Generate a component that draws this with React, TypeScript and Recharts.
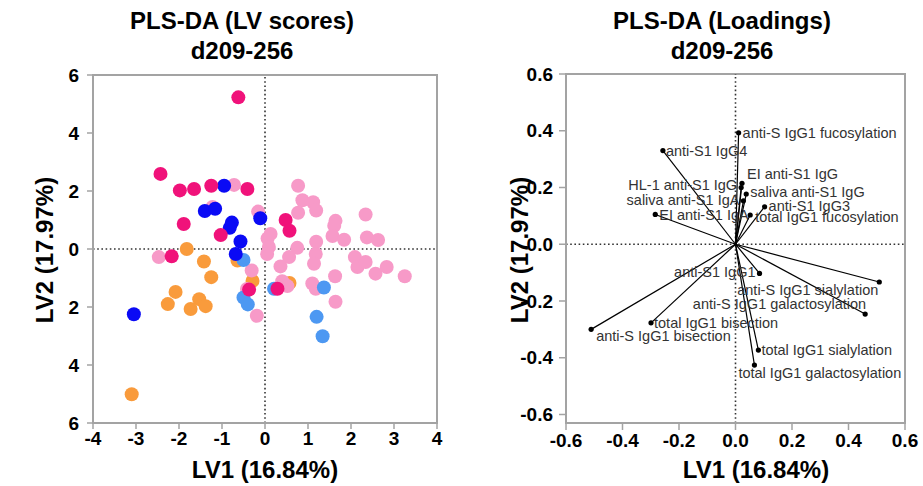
import React from 'react';
import { ScatterChart, Scatter, XAxis, YAxis, ReferenceLine, ReferenceArea } from 'recharts';

// ---------- LV scores (left panel) ----------
const orangePts = [
  { x: -1.82, y: 0.0 }, { x: -1.42, y: -0.43 }, { x: -1.25, y: -0.97 }, { x: -2.08, y: -1.48 },
  { x: -2.26, y: -1.9 }, { x: -1.53, y: -1.73 }, { x: -1.73, y: -2.07 }, { x: -1.38, y: -1.97 },
  { x: -3.1, y: -5.01 }, { x: -0.64, y: -0.4 }, { x: -0.29, y: -1.1 }, { x: 0.57, y: -1.17 },
];
const lightPinkPts = [
  { x: -0.72, y: 2.21 }, { x: -1.22, y: 1.45 }, { x: -0.16, y: 1.29 }, { x: 0.06, y: 0.36 },
  { x: 0.13, y: 0.52 }, { x: 0.09, y: 0.07 }, { x: 0.77, y: 2.18 }, { x: 0.87, y: 1.68 },
  { x: 1.12, y: 1.61 }, { x: 1.19, y: 1.33 }, { x: 0.77, y: 1.25 }, { x: 1.64, y: 0.97 },
  { x: 1.61, y: 0.8 }, { x: 2.34, y: 1.19 }, { x: 1.57, y: 0.45 }, { x: 1.84, y: 0.32 },
  { x: 1.19, y: 0.25 }, { x: 2.37, y: 0.4 }, { x: 2.63, y: 0.31 }, { x: 0.75, y: 0.04 },
  { x: -2.47, y: -0.28 }, { x: -0.31, y: -0.74 }, { x: -0.42, y: -1.38 }, { x: -0.19, y: -2.3 },
  { x: 0.05, y: -0.17 }, { x: 0.56, y: -0.28 }, { x: 0.36, y: -0.6 }, { x: 1.18, y: -0.17 },
  { x: 1.14, y: -0.51 }, { x: 2.09, y: -0.28 }, { x: 2.15, y: -0.62 }, { x: 2.34, y: -0.45 },
  { x: 2.57, y: -0.85 }, { x: 2.83, y: -0.62 }, { x: 3.25, y: -0.94 }, { x: 0.4, y: -1.11 },
  { x: 0.52, y: -1.28 }, { x: 1.1, y: -1.19 }, { x: 1.18, y: -1.37 }, { x: 1.63, y: -0.94 },
  { x: 1.64, y: -1.82 },
];
const lightBluePts = [
  { x: -0.5, y: -0.38 }, { x: -0.5, y: -1.67 }, { x: -0.4, y: -1.91 }, { x: 0.21, y: -1.37 },
  { x: 1.37, y: -1.33 }, { x: 1.2, y: -2.34 }, { x: 1.34, y: -3.01 },
];
const bluePts = [
  { x: -0.95, y: 2.18 }, { x: -1.4, y: 1.31 }, { x: -1.16, y: 1.39 }, { x: -0.11, y: 1.06 },
  { x: -0.77, y: 0.91 }, { x: -0.82, y: 0.73 }, { x: -0.57, y: 0.26 }, { x: -0.68, y: -0.17 },
  { x: -3.05, y: -2.25 },
];
const magentaPts = [
  { x: -0.62, y: 5.23 }, { x: -2.43, y: 2.59 }, { x: -1.98, y: 2.02 }, { x: -1.65, y: 2.07 },
  { x: -1.25, y: 2.18 }, { x: -0.41, y: 2.07 }, { x: -1.89, y: 0.86 }, { x: -1.03, y: 0.48 },
  { x: 0.48, y: 1.0 }, { x: 0.57, y: 0.63 }, { x: -2.17, y: -0.25 }, { x: -0.37, y: -1.4 },
  { x: 0.29, y: -1.37 },
];
const scoreXTicks = [-4, -3, -2, -1, 0, 1, 2, 3, 4];
const scoreYTicks = [-6, -4, -2, 0, 2, 4, 6];

// ---------- Loadings (right panel) ----------
const loadNames = [
  'anti-S IgG1 fucosylation', 'anti-S1 IgG4', 'EI anti-S1 IgG', 'HL-1 anti-S1 IgG',
  'saliva anti-S1 IgG', 'saliva anti-S1 IgA', 'anti-S1 IgG3', 'total IgG1 fucosylation',
  'EI anti-S1 IgA', 'anti-S1 IgG1', 'anti-S IgG1 sialylation', 'anti-S IgG1 galactosylation',
  'total IgG1 bisection', 'anti-S IgG1 bisection', 'total IgG1 sialylation', 'total IgG1 galactosylation',
];
const loadX = [0.011, -0.257, 0.023, 0.02, 0.038, 0.028, 0.103, 0.052, -0.284, 0.085, 0.509, 0.459, -0.299, -0.511, 0.081, 0.067];
const loadY = [0.393, 0.33, 0.215, 0.2, 0.177, 0.153, 0.132, 0.103, 0.105, -0.103, -0.133, -0.246, -0.277, -0.3, -0.373, -0.426];
const loadTicks = [-0.6, -0.4, -0.2, 0, 0.2, 0.4, 0.6];

const loadings = loadNames.map((name, i) => ({ name, x: loadX[i], y: loadY[i] }));

// label placement (anchor, dx, dy) for each loading label
const labelPlace: Record<string, [string, number, number]> = {
  'anti-S IgG1 fucosylation': ['start', 4, 0],
  'anti-S1 IgG4': ['start', 3, 0],
  'EI anti-S1 IgG': ['start', 5, -9],
  'HL-1 anti-S1 IgG': ['end', -4, -2],
  'saliva anti-S1 IgG': ['start', 4, -2],
  'saliva anti-S1 IgA': ['end', -4, -1],
  'anti-S1 IgG3': ['start', 4, -1],
  'total IgG1 fucosylation': ['start', 5, 2],
  'EI anti-S1 IgA': ['start', 4, 1],
  'anti-S1 IgG1': ['end', -4, -1],
  'anti-S IgG1 sialylation': ['end', -1, 8],
  'anti-S IgG1 galactosylation': ['end', 1, -10],
  'total IgG1 bisection': ['start', 3, 0],
  'anti-S IgG1 bisection': ['start', 5, 7],
  'total IgG1 sialylation': ['start', 3, 0],
  'total IgG1 galactosylation': ['start', -16, 8],
};

const FONT = "'Liberation Sans', Arial, Helvetica, sans-serif";
const GRAY = '#a3a3a3';
const tickStyle = { fill: '#000', fontSize: 19, fontWeight: 700, fontFamily: FONT };

const dot = (color: string) => (props: any) => {
  const { cx, cy } = props;
  if (cx == null || cy == null) return <g />;
  return <circle cx={cx} cy={cy} r={7} fill={color} stroke="none" />;
};

const loadingShape = (props: any) => {
  const { cx, cy, payload } = props;
  if (cx == null || cy == null) return <g />;
  const p = labelPlace[payload.name] || ['start', 4, 0];
  return (
    <g>
      <circle cx={cx} cy={cy} r={2.6} fill="#000" />
      <text
        x={cx + p[1]}
        y={cy + p[2]}
        textAnchor={p[0] as any}
        dominantBaseline="central"
        fontSize={14.5}
        fontFamily={FONT}
        fill="#333"
      >
        {payload.name}
      </text>
    </g>
  );
};

const titleStyle = (cx: number): React.CSSProperties => ({
  position: 'absolute',
  left: cx - 200,
  top: 6,
  width: 400,
  textAlign: 'center',
  fontFamily: FONT,
  fontWeight: 700,
  fontSize: 24,
  lineHeight: '30px',
  color: '#000',
});

const xLabelStyle = (cx: number): React.CSSProperties => ({
  position: 'absolute',
  left: cx - 120,
  top: 455,
  width: 240,
  textAlign: 'center',
  fontFamily: FONT,
  fontWeight: 700,
  fontSize: 24,
  lineHeight: '30px',
  color: '#000',
});

const yLabelStyle = (cx: number): React.CSSProperties => ({
  position: 'absolute',
  left: cx - 120,
  top: 250 - 15,
  width: 240,
  height: 30,
  textAlign: 'center',
  fontFamily: FONT,
  fontWeight: 700,
  fontSize: 24,
  lineHeight: '30px',
  color: '#000',
  transform: 'rotate(-90deg)',
});

export default function App() {
  return (
    <div style={{ position: 'absolute', left: 0, top: 0, width: 923, height: 486, background: '#fff', overflow: 'hidden' }}>
      <div style={{ position: 'absolute', left: 0, top: 0 }}>
        <ScatterChart width={462} height={486} margin={{ top: 75, right: 25, bottom: 33, left: 0 }}>
          <XAxis
            type="number"
            dataKey="x"
            domain={[-4, 4]}
            ticks={scoreXTicks}
            interval={0}
            allowDataOverflow
            height={30}
            tickSize={6}
            tickMargin={3}
            tick={tickStyle}
            tickLine={{ stroke: GRAY, strokeWidth: 1.5 }}
            axisLine={{ stroke: GRAY, strokeWidth: 2 }}
          />
          <YAxis
            type="number"
            dataKey="y"
            domain={[-6, 6]}
            ticks={scoreYTicks}
            interval={0}
            allowDataOverflow
            width={93}
            tickSize={6}
            tickMargin={8}
            tick={tickStyle}
            tickFormatter={(v: number) => String(Math.abs(v))}
            tickLine={{ stroke: GRAY, strokeWidth: 1.5 }}
            axisLine={{ stroke: GRAY, strokeWidth: 2 }}
          />
          <ReferenceArea x1={-4} x2={4} y1={-6} y2={6} fill="none" fillOpacity={0} stroke={GRAY} strokeWidth={2} />
          <ReferenceLine x={0} stroke="#333" strokeWidth={1.6} strokeDasharray="1.6 2.6" />
          <ReferenceLine y={0} stroke="#333" strokeWidth={1.6} strokeDasharray="1.6 2.6" />
          <Scatter data={orangePts} fill="#f99b3c" shape={dot('#f99b3c')} isAnimationActive={false} />
          <Scatter data={lightPinkPts} fill="#f79ac8" shape={dot('#f79ac8')} isAnimationActive={false} />
          <Scatter data={lightBluePts} fill="#4d98f2" shape={dot('#4d98f2')} isAnimationActive={false} />
          <Scatter data={bluePts} fill="#0a0af5" shape={dot('#0a0af5')} isAnimationActive={false} />
          <Scatter data={magentaPts} fill="#f0127a" shape={dot('#f0127a')} isAnimationActive={false} />
        </ScatterChart>
      </div>
      <div style={{ position: 'absolute', left: 462, top: 0 }}>
        <ScatterChart width={461} height={486} margin={{ top: 74, right: 18, bottom: 33, left: 0 }}>
          <XAxis
            type="number"
            dataKey="x"
            domain={[-0.6, 0.6]}
            ticks={loadTicks}
            interval={0}
            allowDataOverflow
            height={30}
            tickSize={7}
            tickMargin={4}
            tick={tickStyle}
            tickFormatter={(v: number) => v.toFixed(1)}
            tickLine={{ stroke: GRAY, strokeWidth: 1.5 }}
            axisLine={{ stroke: GRAY, strokeWidth: 2 }}
          />
          <YAxis
            type="number"
            dataKey="y"
            domain={[-0.63, 0.6]}
            ticks={loadTicks}
            interval={0}
            allowDataOverflow
            width={104}
            tickSize={7}
            tickMargin={6}
            tick={tickStyle}
            tickFormatter={(v: number) => v.toFixed(1)}
            tickLine={{ stroke: GRAY, strokeWidth: 1.5 }}
            axisLine={{ stroke: GRAY, strokeWidth: 2 }}
          />
          <ReferenceArea x1={-0.6} x2={0.6} y1={-0.63} y2={0.6} fill="none" fillOpacity={0} stroke={GRAY} strokeWidth={2} />
          <ReferenceLine x={0} stroke="#333" strokeWidth={1.6} strokeDasharray="1.6 2.6" />
          <ReferenceLine y={0} stroke="#333" strokeWidth={1.6} strokeDasharray="1.6 2.6" />
          {loadings.map((l) => (
            <ReferenceLine
              key={l.name}
              segment={[{ x: 0, y: 0 }, { x: l.x, y: l.y }]}
              stroke="#000"
              strokeWidth={1.2}
            />
          ))}
          <Scatter data={loadings} fill="#000" shape={loadingShape} isAnimationActive={false} />
        </ScatterChart>
      </div>
      <div style={titleStyle(242)}>PLS-DA (LV scores)<br />d209-256</div>
      <div style={titleStyle(722)}>PLS-DA (Loadings)<br />d209-256</div>
      <div style={xLabelStyle(265)}>LV1 (16.84%)</div>
      <div style={xLabelStyle(756)}>LV1 (16.84%)</div>
      <div style={yLabelStyle(45)}>LV2 (17.97%)</div>
      <div style={yLabelStyle(520)}>LV2 (17.97%)</div>
    </div>
  );
}
